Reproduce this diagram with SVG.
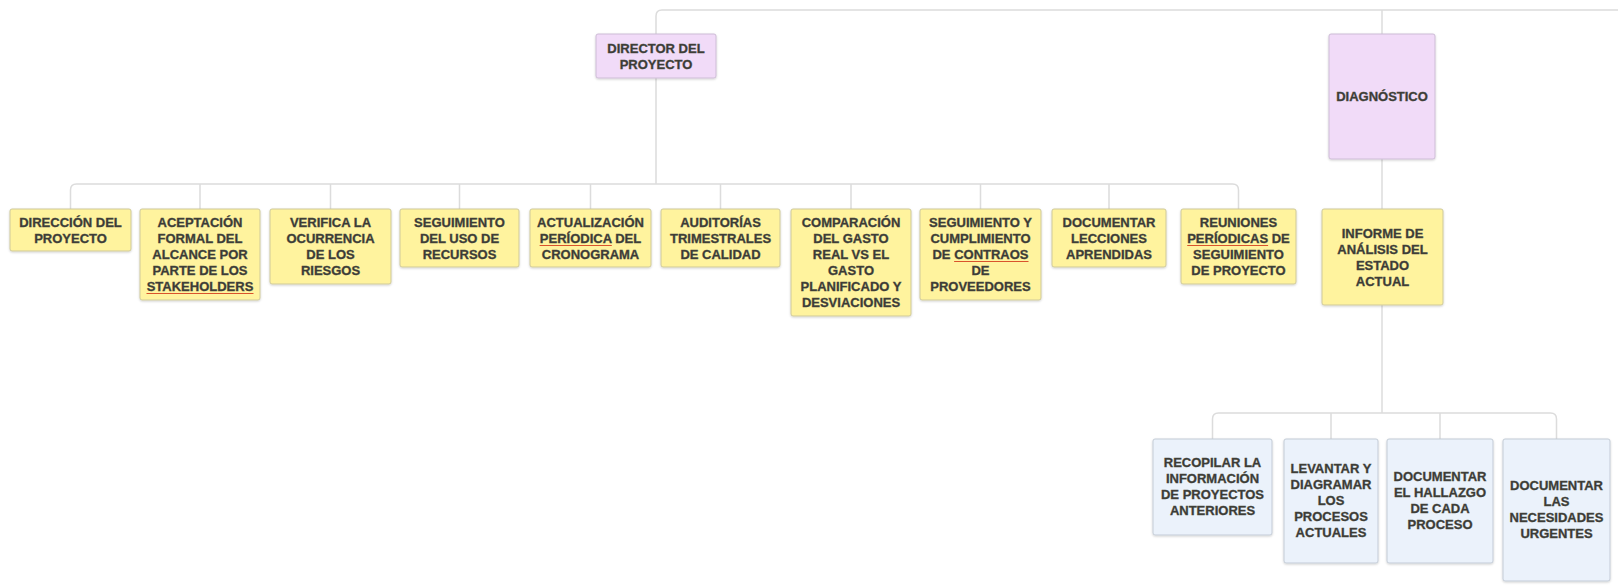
<svg xmlns="http://www.w3.org/2000/svg" width="1618" height="588" viewBox="0 0 1618 588">
<defs>
<filter id="sh" x="-10%" y="-10%" width="120%" height="130%">
<feDropShadow dx="0" dy="1" stdDeviation="1" flood-color="#000" flood-opacity="0.18"/>
</filter>
<style>
.y{fill:#fff39e;stroke:#cfc99a;stroke-width:1;filter:url(#sh)}
.p{fill:#f1dbf8;stroke:#cdbcd6;stroke-width:1;filter:url(#sh)}
.b{fill:#ebf2fb;stroke:#c3cbd6;stroke-width:1;filter:url(#sh)}
text{font-family:"Liberation Sans",Arial,sans-serif;font-weight:bold;font-size:13px;fill:#3a3a36;stroke:#4a4a40;stroke-width:0.35;text-anchor:middle}
.conn path{fill:none;stroke:#dcdcdc;stroke-width:1.5}
.sp line{stroke:#d9532c;stroke-width:1.2}
</style>
</defs>
<rect width="1618" height="588" fill="#ffffff"/>
<g class="conn" id="connectors">
<path d="M656,184 V16 Q656,10 662,10 H1618"/>
<path d="M1382,10 V209"/>
<path d="M70.5,209 V190 Q70.5,184 76.5,184 H1232.5 Q1238.5,184 1238.5,190 V209"/>
<path d="M200,184 V209 M330.5,184 V209 M459.5,184 V209 M590.5,184 V209 M720.5,184 V209 M851,184 V209 M980.5,184 V209 M1109,184 V209"/>
<path d="M1382,305 V413"/>
<path d="M1212.5,439 V419 Q1212.5,413 1218.5,413 H1550.5 Q1556.5,413 1556.5,419 V439"/>
<path d="M1331,413 V439 M1440,413 V439"/>
</g>
<g id="n-director"><rect class="p" x="596" y="34" width="120" height="44" rx="2"/><text x="656" y="52.5">DIRECTOR DEL<tspan x="656" dy="16">PROYECTO</tspan></text></g>
<g id="n-diagnostico"><rect class="p" x="1329" y="34" width="106" height="125" rx="2"/><text x="1382" y="101">DIAGNÓSTICO</text></g>
<g id="n1"><rect class="y" x="10" y="209" width="121" height="42" rx="2"/><text x="70.5" y="226.5">DIRECCIÓN DEL<tspan x="70.5" dy="16">PROYECTO</tspan></text></g>
<g id="n2"><rect class="y" x="140" y="209" width="120" height="91" rx="2"/><text x="200" y="227">ACEPTACIÓN<tspan x="200" dy="16">FORMAL DEL</tspan><tspan x="200" dy="16">ALCANCE POR</tspan><tspan x="200" dy="16">PARTE DE LOS</tspan><tspan x="200" dy="16">STAKEHOLDERS</tspan></text></g>
<g id="n3"><rect class="y" x="270" y="209" width="121" height="75" rx="2"/><text x="330.5" y="227">VERIFICA LA<tspan x="330.5" dy="16">OCURRENCIA</tspan><tspan x="330.5" dy="16">DE LOS</tspan><tspan x="330.5" dy="16">RIESGOS</tspan></text></g>
<g id="n4"><rect class="y" x="400" y="209" width="119" height="58" rx="2"/><text x="459.5" y="226.5">SEGUIMIENTO<tspan x="459.5" dy="16">DEL USO DE</tspan><tspan x="459.5" dy="16">RECURSOS</tspan></text></g>
<g id="n5"><rect class="y" x="530" y="209" width="121" height="58" rx="2"/><text x="590.5" y="226.5">ACTUALIZACIÓN<tspan x="590.5" dy="16">PERÍODICA DEL</tspan><tspan x="590.5" dy="16">CRONOGRAMA</tspan></text></g>
<g id="n6"><rect class="y" x="661" y="209" width="119" height="58" rx="2"/><text x="720.5" y="226.5">AUDITORÍAS<tspan x="720.5" dy="16">TRIMESTRALES</tspan><tspan x="720.5" dy="16">DE CALIDAD</tspan></text></g>
<g id="n7"><rect class="y" x="791" y="209" width="120" height="107" rx="2"/><text x="851" y="227">COMPARACIÓN<tspan x="851" dy="16">DEL GASTO</tspan><tspan x="851" dy="16">REAL VS EL</tspan><tspan x="851" dy="16">GASTO</tspan><tspan x="851" dy="16">PLANIFICADO Y</tspan><tspan x="851" dy="16">DESVIACIONES</tspan></text></g>
<g id="n8"><rect class="y" x="920" y="209" width="121" height="91" rx="2"/><text x="980.5" y="227">SEGUIMIENTO Y<tspan x="980.5" dy="16">CUMPLIMIENTO</tspan><tspan x="980.5" dy="16">DE CONTRAOS</tspan><tspan x="980.5" dy="16">DE</tspan><tspan x="980.5" dy="16">PROVEEDORES</tspan></text></g>
<g id="n9"><rect class="y" x="1052" y="209" width="114" height="58" rx="2"/><text x="1109" y="226.5">DOCUMENTAR<tspan x="1109" dy="16">LECCIONES</tspan><tspan x="1109" dy="16">APRENDIDAS</tspan></text></g>
<g id="n10"><rect class="y" x="1181" y="209" width="115" height="75" rx="2"/><text x="1238.5" y="227">REUNIONES<tspan x="1238.5" dy="16">PERÍODICAS DE</tspan><tspan x="1238.5" dy="16">SEGUIMIENTO</tspan><tspan x="1238.5" dy="16">DE PROYECTO</tspan></text></g>
<g id="n-informe"><rect class="y" x="1322" y="209" width="121" height="96" rx="2"/><text x="1382.5" y="237.5">INFORME DE<tspan x="1382.5" dy="16">ANÁLISIS DEL</tspan><tspan x="1382.5" dy="16">ESTADO</tspan><tspan x="1382.5" dy="16">ACTUAL</tspan></text></g>
<g id="n11"><rect class="b" x="1153" y="439" width="119" height="96" rx="2"/><text x="1212.5" y="466.5">RECOPILAR LA<tspan x="1212.5" dy="16">INFORMACIÓN</tspan><tspan x="1212.5" dy="16">DE PROYECTOS</tspan><tspan x="1212.5" dy="16">ANTERIORES</tspan></text></g>
<g id="n12"><rect class="b" x="1284" y="439" width="94" height="124" rx="2"/><text x="1331" y="472.5">LEVANTAR Y<tspan x="1331" dy="16">DIAGRAMAR</tspan><tspan x="1331" dy="16">LOS</tspan><tspan x="1331" dy="16">PROCESOS</tspan><tspan x="1331" dy="16">ACTUALES</tspan></text></g>
<g id="n13"><rect class="b" x="1387" y="439" width="106" height="124" rx="2"/><text x="1440" y="480.5">DOCUMENTAR<tspan x="1440" dy="16">EL HALLAZGO</tspan><tspan x="1440" dy="16">DE CADA</tspan><tspan x="1440" dy="16">PROCESO</tspan></text></g>
<g id="n14"><rect class="b" x="1503" y="439" width="107" height="142" rx="2"/><text x="1556.5" y="489.5">DOCUMENTAR<tspan x="1556.5" dy="16">LAS</tspan><tspan x="1556.5" dy="16">NECESIDADES</tspan><tspan x="1556.5" dy="16">URGENTES</tspan></text></g>
<g class="sp" id="spellcheck">
<line x1="146.5" y1="293.5" x2="253.5" y2="293.5"/>
<line x1="539.6" y1="245.5" x2="611.8" y2="245.5"/>
<line x1="954.1" y1="261.5" x2="1028.5" y2="261.5"/>
<line x1="1187.2" y1="245.5" x2="1268.1" y2="245.5"/>
</g>
</svg>
